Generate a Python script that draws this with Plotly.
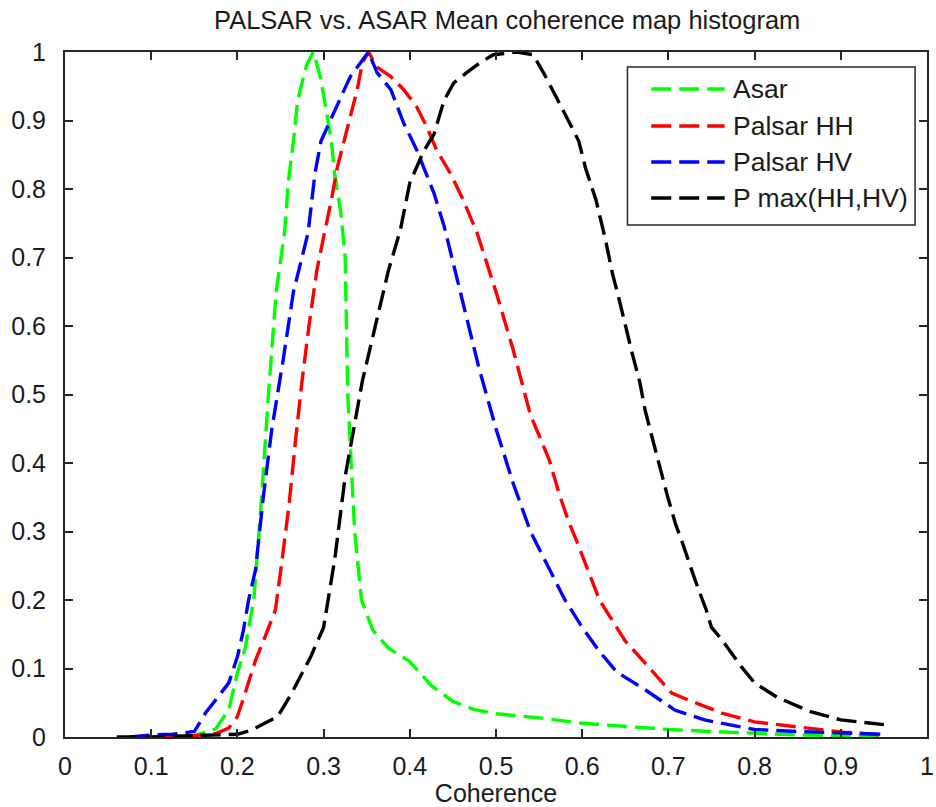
import plotly.graph_objects as go

# Histogram curves of mean coherence (normalised to peak = 1)
asar_x = [0.075, 0.1, 0.125, 0.15, 0.175, 0.19, 0.2, 0.209, 0.219, 0.227, 0.236, 0.245,
          0.255, 0.259, 0.265, 0.27, 0.28, 0.288, 0.295, 0.301, 0.309, 0.313, 0.32, 0.325,
          0.328, 0.336, 0.344, 0.357, 0.375, 0.4, 0.425, 0.45, 0.475, 0.5, 0.55, 0.6,
          0.65, 0.7, 0.75, 0.8, 0.85, 0.9, 0.95]
asar_y = [0.0, 0.0, 0.001, 0.002, 0.012, 0.04, 0.093, 0.13, 0.2, 0.33, 0.5, 0.65,
          0.74, 0.81, 0.87, 0.93, 0.98, 1.0, 0.97, 0.93, 0.87, 0.82, 0.765, 0.7,
          0.5, 0.3, 0.2, 0.156, 0.13, 0.11, 0.075, 0.052, 0.04, 0.034, 0.028, 0.02,
          0.015, 0.011, 0.008, 0.005, 0.003, 0.002, 0.001]

hh_x = [0.075, 0.1, 0.125, 0.15, 0.175, 0.19, 0.2, 0.209, 0.221, 0.232, 0.244, 0.251,
        0.26, 0.268, 0.275, 0.283, 0.292, 0.301, 0.309, 0.316, 0.324, 0.331, 0.339,
        0.345, 0.352, 0.362, 0.378, 0.393, 0.408, 0.42, 0.431, 0.447, 0.462, 0.478,
        0.5, 0.52, 0.54, 0.562, 0.573, 0.585, 0.593, 0.62, 0.65, 0.673, 0.704, 0.723,
        0.762, 0.8, 0.846, 0.903, 0.949]
hh_y = [0.0, 0.0, 0.001, 0.002, 0.005, 0.013, 0.03, 0.064, 0.112, 0.146, 0.185, 0.25,
        0.34, 0.44, 0.52, 0.6, 0.68, 0.736, 0.784, 0.832, 0.87, 0.905, 0.945,
        0.984, 1.0, 0.978, 0.964, 0.945, 0.92, 0.89, 0.857, 0.823, 0.784, 0.736,
        0.65, 0.565, 0.47, 0.404, 0.356, 0.312, 0.288, 0.2, 0.14, 0.108, 0.064, 0.054,
        0.035, 0.022, 0.015, 0.007, 0.003]

hv_x = [0.075, 0.1, 0.125, 0.15, 0.163, 0.19, 0.2, 0.207, 0.213, 0.221, 0.23, 0.24,
        0.253, 0.265, 0.282, 0.29, 0.297, 0.309, 0.32, 0.331, 0.347, 0.352, 0.362,
        0.378, 0.393, 0.408, 0.416, 0.428, 0.44, 0.46, 0.48, 0.5, 0.52, 0.54, 0.56,
        0.58, 0.6, 0.62, 0.64, 0.673, 0.708, 0.742, 0.77, 0.8, 0.85, 0.9, 0.95]
hv_y = [0.0, 0.003, 0.004, 0.008, 0.035, 0.079, 0.117, 0.156, 0.2, 0.244, 0.35, 0.45,
        0.55, 0.65, 0.736, 0.823, 0.87, 0.905, 0.934, 0.964, 0.99, 1.0, 0.97,
        0.945, 0.896, 0.857, 0.832, 0.794, 0.745, 0.64, 0.54, 0.45, 0.37, 0.3, 0.25,
        0.2, 0.16, 0.125, 0.095, 0.069, 0.039, 0.025, 0.018, 0.011, 0.008, 0.006, 0.004]

pmax_x = [0.06, 0.1, 0.15, 0.2, 0.216, 0.24, 0.247, 0.263, 0.285, 0.3, 0.313, 0.325,
          0.335, 0.345, 0.36, 0.375, 0.389, 0.4, 0.416, 0.428, 0.44, 0.451, 0.466,
          0.481, 0.497, 0.524, 0.543, 0.555, 0.57, 0.585, 0.596, 0.604, 0.616, 0.627,
          0.635, 0.643, 0.65, 0.658, 0.667, 0.673, 0.681, 0.69, 0.698, 0.708, 0.715,
          0.731, 0.744, 0.75, 0.762, 0.785, 0.8, 0.826, 0.865, 0.9, 0.938, 0.95]
pmax_y = [0.0, 0.0, 0.002, 0.004, 0.01, 0.025, 0.03, 0.064, 0.117, 0.16, 0.26, 0.38,
          0.45, 0.52, 0.6, 0.68, 0.74, 0.809, 0.855, 0.88, 0.93, 0.955, 0.97,
          0.984, 0.996, 1.0, 0.996, 0.97, 0.934, 0.896, 0.87, 0.83, 0.784, 0.726,
          0.677, 0.638, 0.6, 0.56, 0.517, 0.477, 0.438, 0.394, 0.356, 0.312, 0.288,
          0.229, 0.185, 0.16, 0.142, 0.102, 0.079, 0.058, 0.037, 0.025, 0.02, 0.018]

series_names = ["Asar", "Palsar HH", "Palsar HV", "P max(HH,HV)"]
series_colors = ["#00ff00", "#ff0000", "#0000ff", "#000000"]
series_x = [asar_x, hh_x, hv_x, pmax_x]
series_y = [asar_y, hh_y, hv_y, pmax_y]

tick_vals = [0, 0.1, 0.2, 0.3, 0.4, 0.5, 0.6, 0.7, 0.8, 0.9, 1]
tick_text = ["0", "0.1", "0.2", "0.3", "0.4", "0.5", "0.6", "0.7", "0.8", "0.9", "1"]

FONT = "Liberation Sans, Arial, sans-serif"
TEXT_COLOR = "#1a1a1a"
DASH = "20px,8px"

W, H = 936, 807
L, R, T, B = 65, 2, 52, 70
PW, PH = W - L - R, H - T - B

fig = go.Figure()
for name, color, xs, ys in zip(series_names, series_colors, series_x, series_y):
    fig.add_trace(go.Scatter(x=xs, y=ys, mode="lines", name=name,
                             line=dict(color=color, width=3.4, dash=DASH),
                             showlegend=False))


def px_x(p):
    return (p - L) / PW


def px_y(p):
    return (H - B - p) / PH


# Boxed legend in the upper right of the axes
shapes = [dict(type="rect", xref="paper", yref="paper",
               x0=px_x(632), x1=px_x(922), y0=px_y(225), y1=px_y(67),
               line=dict(color="#262626", width=1.5), fillcolor="white", layer="above")]
annotations = []
row_y = [89, 126, 162, 198]
for name, color, ry in zip(series_names, series_colors, row_y):
    shapes.append(dict(type="line", xref="paper", yref="paper",
                       x0=px_x(656), x1=px_x(730), y0=px_y(ry), y1=px_y(ry),
                       line=dict(color=color, width=3.4, dash=DASH), layer="above"))
    annotations.append(dict(text=name, xref="paper", yref="paper",
                            x=px_x(736), y=px_y(ry), xanchor="left", yanchor="middle",
                            showarrow=False,
                            font=dict(family=FONT, size=26.5, color=TEXT_COLOR)))

axis_common = dict(
    range=[0, 1], tickvals=tick_vals, ticktext=tick_text,
    ticks="inside", ticklen=8, tickwidth=1.5, tickcolor="#262626",
    showline=True, linecolor="#262626", linewidth=2, mirror="ticks",
    showgrid=False, zeroline=False, ticklabeloverflow="allow",
    tickfont=dict(family=FONT, size=25, color=TEXT_COLOR),
)

fig.update_layout(
    width=W, height=H,
    margin=dict(l=L, r=R, t=T, b=B),
    paper_bgcolor="white", plot_bgcolor="white",
    title=dict(text="PALSAR vs. ASAR Mean coherence map histogram",
               x=0.513, xref="paper", xanchor="center",
               y=1 - 20 / H, yref="container", yanchor="middle",
               font=dict(family=FONT, size=25.5, color=TEXT_COLOR)),
    xaxis=dict(axis_common, ticklabelstandoff=6,
               title=dict(text="Coherence", standoff=6,
                          font=dict(family=FONT, size=25, color=TEXT_COLOR))),
    yaxis=dict(axis_common, ticklabelstandoff=12),
    shapes=shapes,
    annotations=annotations,
)

fig.write_html("out.html")
